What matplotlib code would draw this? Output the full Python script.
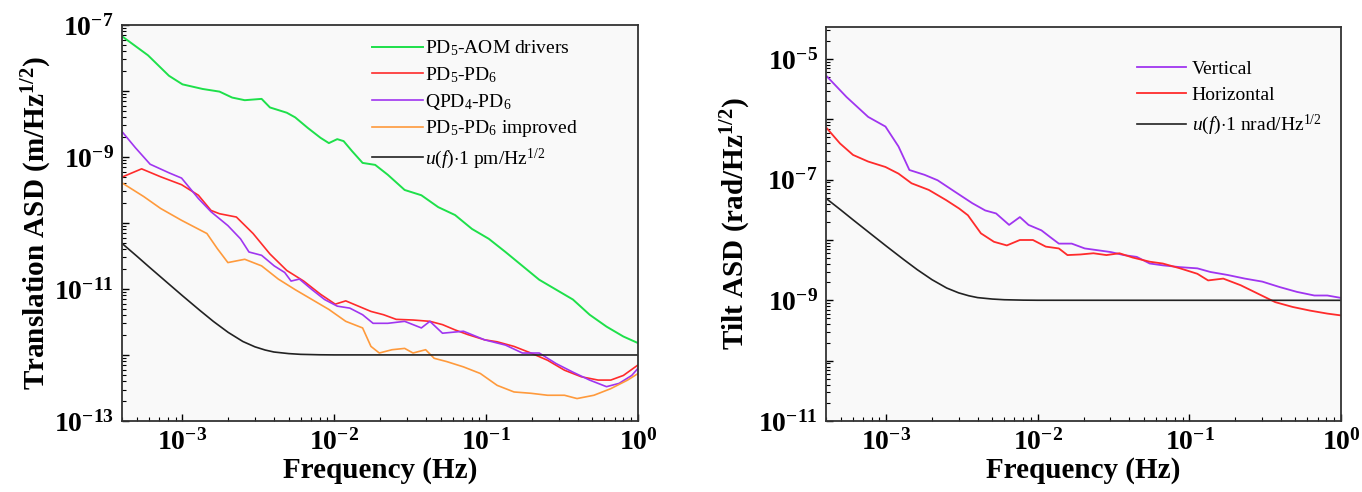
import numpy as np
import matplotlib
matplotlib.use("Agg")
import matplotlib.pyplot as plt
from matplotlib.ticker import LogLocator, FuncFormatter, NullFormatter

plt.rcParams['font.family'] = ['Liberation Serif', 'DejaVu Serif']
plt.rcParams['mathtext.fontset'] = 'custom'
plt.rcParams['mathtext.rm'] = 'Liberation Serif'
plt.rcParams['mathtext.it'] = 'Liberation Serif:italic'
plt.rcParams['mathtext.bf'] = 'Liberation Serif:bold'

# ---- data, log10 of frequency (Hz) and log10 of ASD ----
# left panel: translation
green_lf = [-3.393, -3.227, -3.089, -3.0, -2.867, -2.756, -2.673, -2.59, -2.479, -2.424, -2.313,
            -2.258, -2.175, -2.091, -2.036, -1.981, -1.939, -1.884, -1.814, -1.731, -1.648, -1.537,
            -1.427, -1.316, -1.205, -1.094, -0.983, -0.873, -0.762, -0.651, -0.54, -0.429, -0.319,
            -0.208, -0.097, 0.0]
green_la = [-7.18, -7.46, -7.77, -7.90, -7.97, -8.01, -8.10, -8.14, -8.12, -8.25, -8.33,
            -8.40, -8.56, -8.71, -8.79, -8.73, -8.76, -8.91, -9.09, -9.12, -9.27, -9.50,
            -9.58, -9.76, -9.88, -10.09, -10.24, -10.44, -10.65, -10.86, -11.01, -11.16, -11.39,
            -11.57, -11.72, -11.82]

red_lf = [-3.393, -3.269, -3.144, -3.006, -2.895, -2.812, -2.756, -2.645, -2.535, -2.424, -2.313,
          -2.202, -2.091, -1.994, -1.925, -1.842, -1.759, -1.676, -1.593, -1.482, -1.371, -1.288,
          -1.205, -1.122, -1.011, -0.928, -0.817, -0.706, -0.596, -0.485, -0.374, -0.263, -0.18,
          -0.097, 0.0]
red_la = [-9.30, -9.18, -9.30, -9.42, -9.58, -9.81, -9.86, -9.91, -10.16, -10.47, -10.72,
          -10.88, -11.08, -11.23, -11.18, -11.26, -11.34, -11.39, -11.46, -11.47, -11.49, -11.54,
          -11.62, -11.69, -11.77, -11.80, -11.87, -11.97, -12.08, -12.23, -12.33, -12.38, -12.38,
          -12.31, -12.15]

purple_lf = [-3.393, -3.31, -3.213, -3.089, -3.006, -2.895, -2.812, -2.701, -2.618, -2.562, -2.479,
             -2.396, -2.327, -2.285, -2.23, -2.147, -2.064, -1.981, -1.898, -1.814, -1.745, -1.648,
             -1.537, -1.427, -1.371, -1.288, -1.15, -1.011, -0.873, -0.762, -0.651, -0.54, -0.429,
             -0.319, -0.208, -0.125, -0.042, 0.0]
purple_la = [-8.63, -8.86, -9.11, -9.24, -9.32, -9.63, -9.83, -10.04, -10.24, -10.44, -10.49,
             -10.65, -10.75, -10.88, -10.85, -11.01, -11.16, -11.26, -11.29, -11.39, -11.52, -11.52,
             -11.49, -11.59, -11.49, -11.67, -11.64, -11.77, -11.85, -11.97, -11.97, -12.13, -12.26,
             -12.38, -12.48, -12.43, -12.31, -12.20]

orange_lf = [-3.393, -3.255, -3.144, -3.006, -2.839, -2.77, -2.701, -2.59, -2.479, -2.369, -2.258,
             -2.147, -2.036, -1.925, -1.814, -1.759, -1.704, -1.62, -1.537, -1.482, -1.399, -1.343,
             -1.26, -1.15, -1.039, -0.928, -0.817, -0.706, -0.596, -0.485, -0.402, -0.291, -0.18,
             -0.069, 0.0]
orange_la = [-9.40, -9.60, -9.78, -9.96, -10.16, -10.39, -10.60, -10.55, -10.65, -10.85, -11.01,
             -11.16, -11.31, -11.49, -11.59, -11.87, -11.97, -11.92, -11.90, -11.97, -11.92, -12.05,
             -12.10, -12.18, -12.28, -12.46, -12.56, -12.58, -12.61, -12.61, -12.66, -12.61, -12.51,
             -12.38, -12.28]

# u(f) reference curve, in units of 1 pm or 1 nrad
ref_lf = [-3.398, -3.301, -3.222, -3.097, -3.0, -2.886, -2.796, -2.699, -2.602, -2.523, -2.456,
          -2.398, -2.301, -2.222, -2.097, -2.0, 0.0]
ref_u = [49.0, 31.5, 21.8, 12.3, 7.9, 4.75, 3.22, 2.2, 1.6, 1.33, 1.19,
         1.11, 1.05, 1.023, 1.0075, 1.003, 1.0]

# right panel: tilt
vert_lf = [-3.392, -3.263, -3.12, -3.006, -2.92, -2.848, -2.748, -2.662, -2.548, -2.433, -2.348,
           -2.276, -2.19, -2.119, -2.062, -1.977, -1.92, -1.862, -1.777, -1.691, -1.605, -1.519,
           -1.434, -1.348, -1.262, -1.176, -1.062, -0.948, -0.862, -0.748, -0.634, -0.519, -0.405,
           -0.291, -0.176, -0.09, 0.0]
vert_la = [-5.29, -5.63, -5.96, -6.12, -6.45, -6.84, -6.92, -7.01, -7.20, -7.39, -7.51,
           -7.56, -7.75, -7.62, -7.75, -7.84, -7.95, -8.06, -8.06, -8.14, -8.17, -8.20,
           -8.25, -8.28, -8.39, -8.42, -8.45, -8.47, -8.53, -8.58, -8.64, -8.69, -8.78,
           -8.86, -8.92, -8.92, -8.96]

horiz_lf = [-3.392, -3.306, -3.22, -3.12, -3.006, -2.92, -2.834, -2.72, -2.605, -2.519, -2.462,
            -2.376, -2.29, -2.205, -2.119, -2.033, -1.948, -1.862, -1.805, -1.72, -1.634, -1.548,
            -1.462, -1.376, -1.262, -1.176, -1.062, -0.948, -0.877, -0.777, -0.662, -0.548, -0.434,
            -0.319, -0.205, -0.09, 0.0]
horiz_la = [-6.15, -6.40, -6.59, -6.70, -6.79, -6.90, -7.06, -7.17, -7.34, -7.48, -7.59,
            -7.89, -8.03, -8.09, -8.00, -8.00, -8.11, -8.14, -8.25, -8.24, -8.22, -8.25,
            -8.22, -8.29, -8.36, -8.39, -8.47, -8.56, -8.67, -8.64, -8.75, -8.89, -9.03,
            -9.11, -9.17, -9.22, -9.25]

c_green = '#1ee04a'
c_red = '#ff2b2b'
c_purple = '#a035f0'
c_orange = '#ff9a3c'
c_black = '#222222'


def p10(a):
    return np.power(10.0, np.array(a))


def sci_label(v, pos):
    e = int(round(np.log10(v)))
    return r'$\mathbf{10^{%d}}$' % e


def ylab(v, pos):
    # only every second decade carries a label
    e = int(round(np.log10(v)))
    if e % 2 == 0:
        return ''
    return r'$\mathbf{10^{%d}}$' % e


def style_axes(ax, ymin, ymax):
    ax.set_xscale('log')
    ax.set_yscale('log')
    ax.set_xlim(4e-4, 1.0)
    ax.set_ylim(ymin, ymax)
    ax.set_facecolor('#f9f9f9')
    ax.xaxis.set_major_locator(LogLocator(base=10, numticks=10))
    ax.xaxis.set_minor_locator(LogLocator(base=10, subs=np.arange(2, 10), numticks=20))
    ax.xaxis.set_major_formatter(FuncFormatter(sci_label))
    ax.xaxis.set_minor_formatter(NullFormatter())
    ax.yaxis.set_major_locator(LogLocator(base=10, numticks=20))
    ax.yaxis.set_minor_locator(LogLocator(base=10, subs=np.arange(2, 10), numticks=30))
    ax.yaxis.set_major_formatter(FuncFormatter(ylab))
    ax.yaxis.set_minor_formatter(NullFormatter())
    ax.tick_params(which='both', direction='in', top=False, right=False, labelsize=20, pad=6)
    ax.tick_params(which='major', length=5, width=1.0)
    ax.tick_params(which='minor', length=3, width=0.8)
    for s in ax.spines.values():
        s.set_linewidth(1.3)
        s.set_color('#333333')
    ax.set_xlabel('Frequency (Hz)', fontsize=21, fontweight='bold', labelpad=1)


fig = plt.figure(figsize=(13.62, 4.92), dpi=100)

# AX 1 - translation
ax1 = fig.add_axes([0.0896, 0.1443, 0.3789, 0.805])
ax1.plot(p10(green_lf), p10(green_la), '-', color=c_green, linewidth=1.4, label='PD$_5$-AOM drivers')
ax1.plot(p10(red_lf), p10(red_la), '-', color=c_red, linewidth=1.2, label='PD$_5$-PD$_6$')
ax1.plot(p10(purple_lf), p10(purple_la), '-', color=c_purple, linewidth=1.2, label='QPD$_4$-PD$_6$')
ax1.plot(p10(orange_lf), p10(orange_la), '-', color=c_orange, linewidth=1.2, label='PD$_5$-PD$_6$ improved')
ax1.plot(p10(ref_lf), np.array(ref_u) * 1e-12, '-', color=c_black, linewidth=1.2,
         label=r'$u$($f$)$\cdot$1 pm/Hz$^{1/2}$')
style_axes(ax1, 1e-13, 1e-7)
ax1.set_ylabel('Translation ASD (m/Hz$^{\\mathbf{1/2}}$)', fontsize=21, fontweight='bold', labelpad=0)
ax1.legend(loc='upper right', bbox_to_anchor=(0.905, 0.995), frameon=False, fontsize=14,
           handlelength=2.6, handletextpad=0.1, labelspacing=0.35, borderaxespad=0.2)

# AX 2 - tilt
ax2 = fig.add_axes([0.6065, 0.1443, 0.3781, 0.801])
ax2.plot(p10(vert_lf), p10(vert_la), '-', color=c_purple, linewidth=1.3, label='Vertical')
ax2.plot(p10(horiz_lf), p10(horiz_la), '-', color=c_red, linewidth=1.3, label='Horizontal')
ax2.plot(p10(ref_lf), np.array(ref_u) * 1e-9, '-', color=c_black, linewidth=1.2,
         label=r'$u$($f$)$\cdot$1 nrad/Hz$^{1/2}$')
style_axes(ax2, 1e-11, 3.4e-5)
ax2.set_ylabel('Tilt ASD (rad/Hz$^{\\mathbf{1/2}}$)', fontsize=21, fontweight='bold', labelpad=4)
ax2.legend(loc='upper right', bbox_to_anchor=(0.985, 0.945), frameon=False, fontsize=14,
           handlelength=2.5, handletextpad=0.3, labelspacing=0.45, borderaxespad=0.2)

fig.savefig('out.png', dpi=100)
